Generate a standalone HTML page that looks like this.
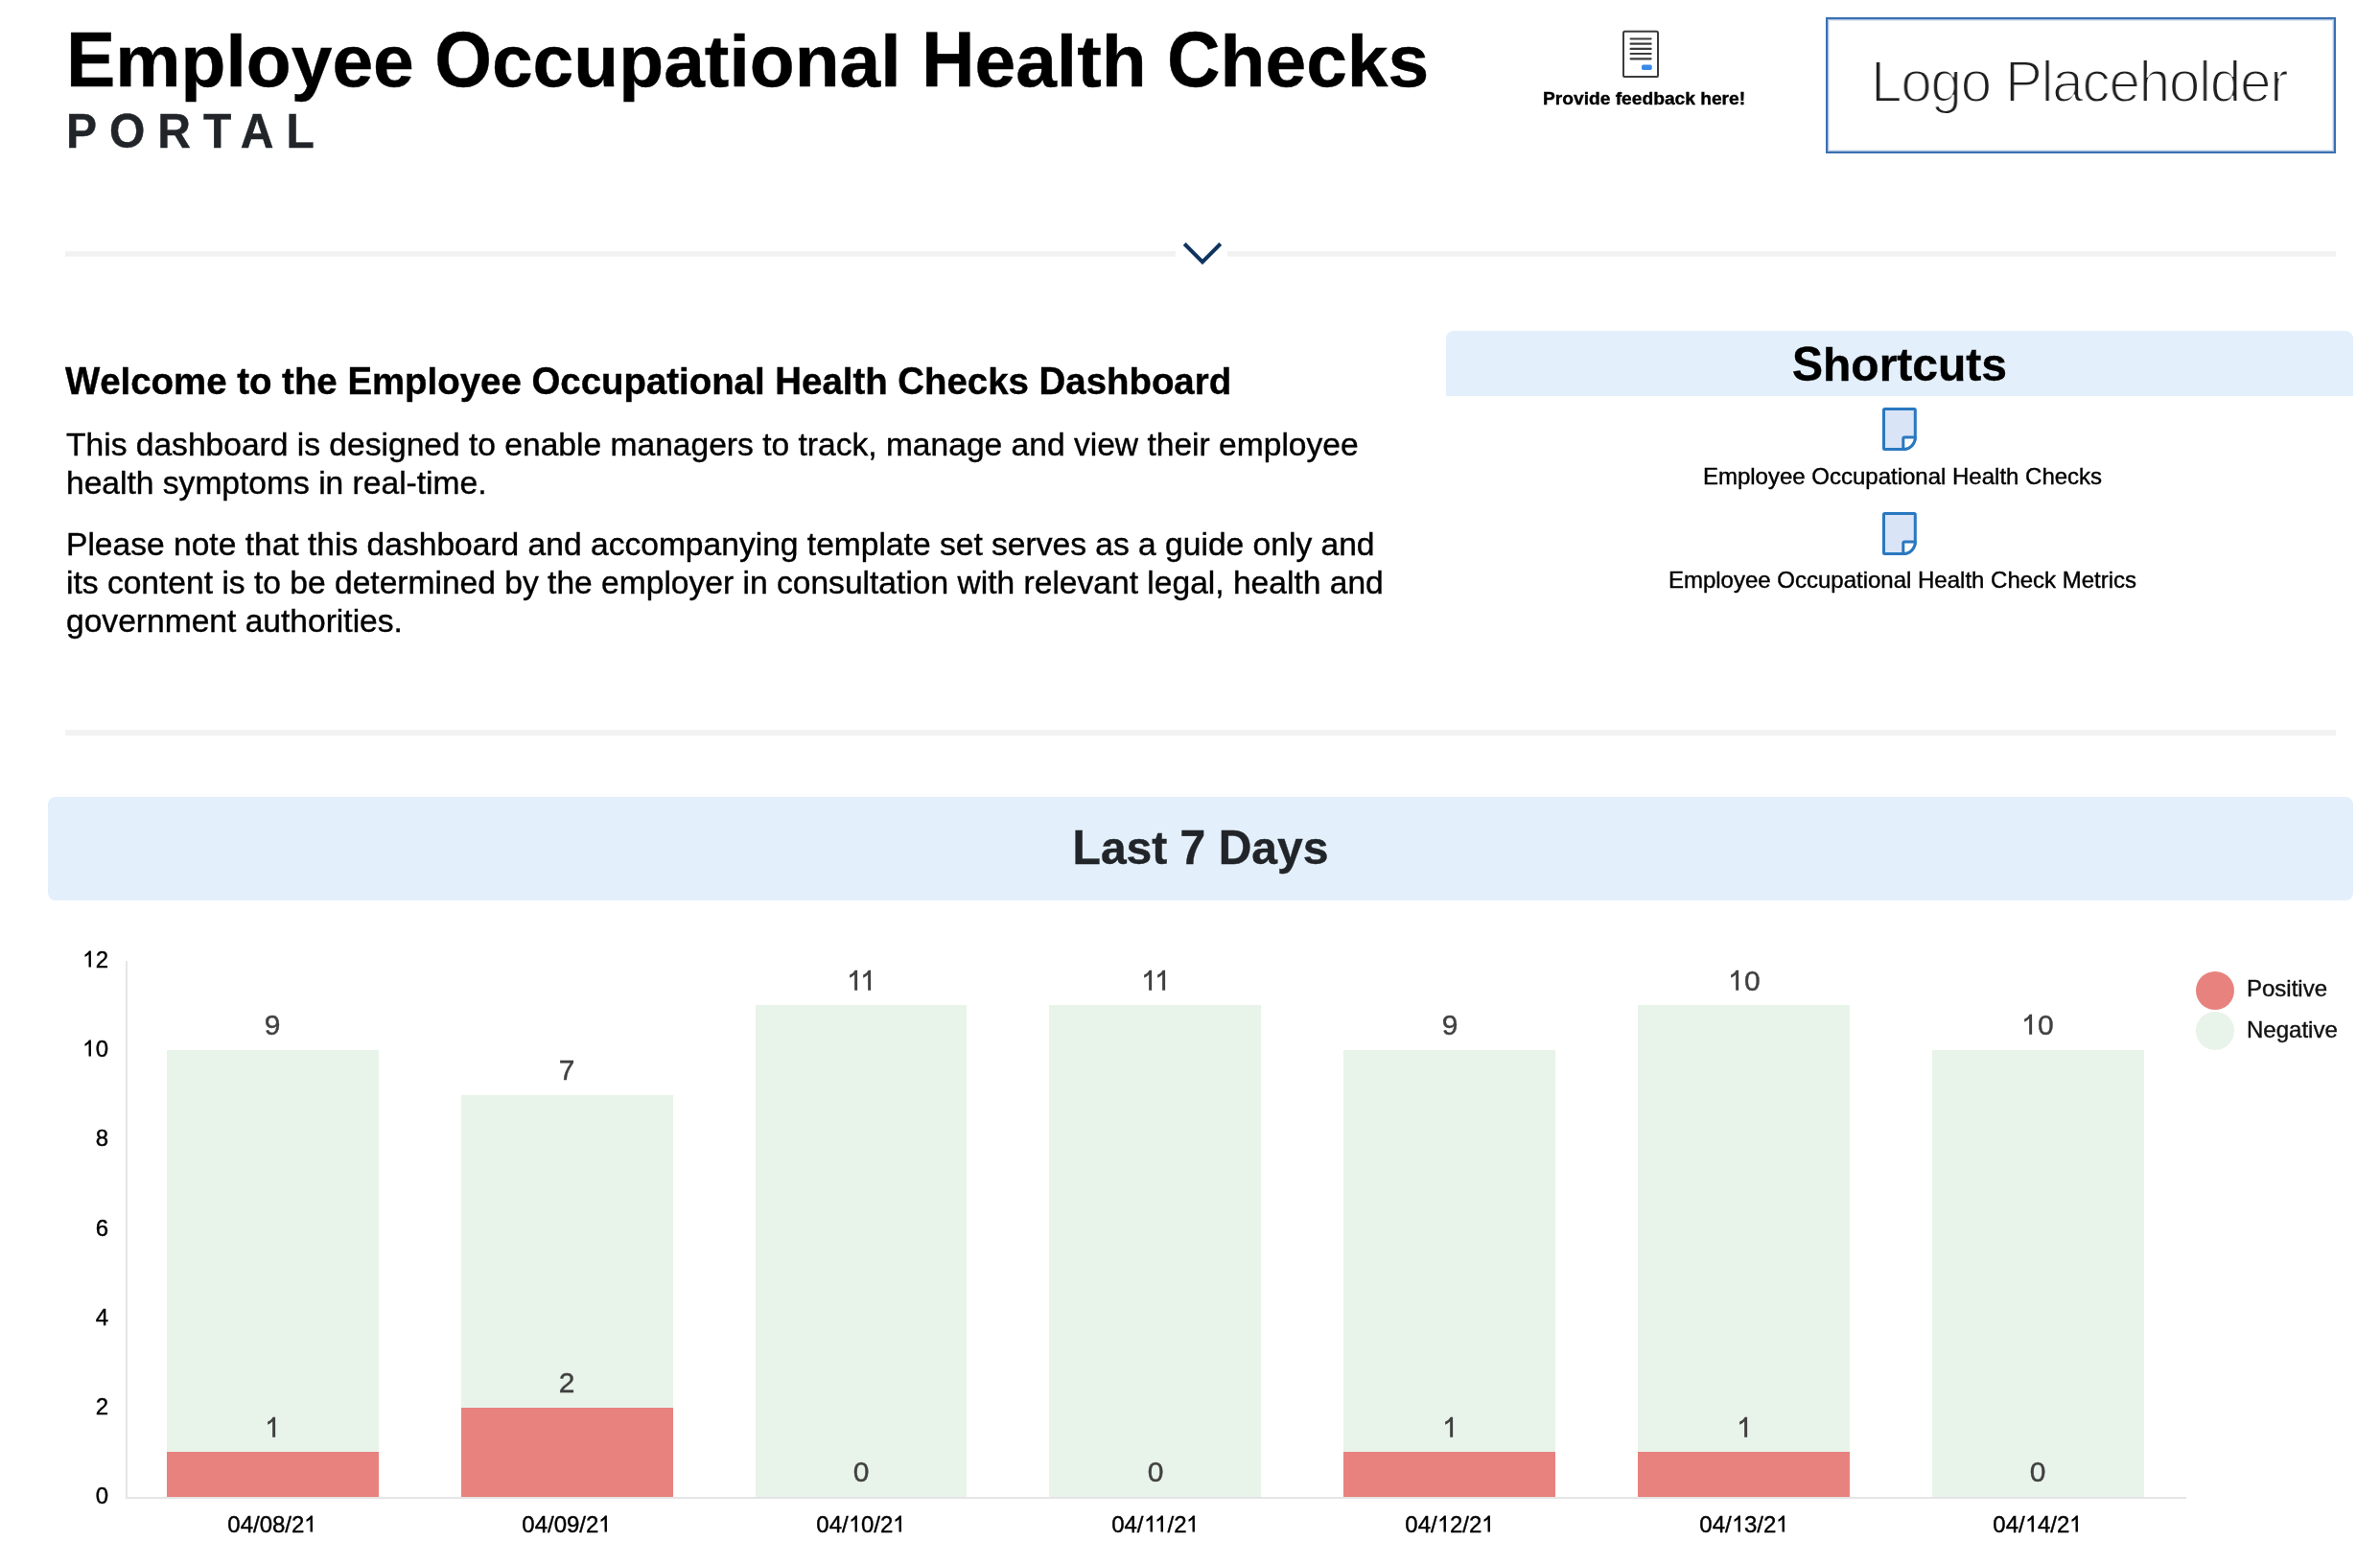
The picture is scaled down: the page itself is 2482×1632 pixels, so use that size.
<!DOCTYPE html>
<html>
<head>
<meta charset="utf-8">
<style>
html,body{margin:0;padding:0;background:#fff;}
body{width:2482px;height:1632px;position:relative;overflow:hidden;font-family:"Liberation Sans",sans-serif;color:#000;}
.a{position:absolute;white-space:nowrap;line-height:1;will-change:transform;-webkit-text-stroke:0.4px currentColor;}
.b{font-weight:bold;}
#title{left:69px;top:25px;font-size:76.8px;font-weight:bold;}
#sctitle i,#bannertext i{font-style:normal;display:inline-block;transform-origin:0 40.6px;transform:scaleY(1.045);}
#welcome i{font-style:normal;display:inline-block;transform-origin:0 32.5px;transform:scaleY(1.045);}
#title i{font-style:normal;display:inline-block;transform-origin:0 65px;transform:scaleY(1.05);}
#portal{left:69px;top:114px;font-size:48px;font-weight:bold;color:#212529;letter-spacing:13px;transform-origin:0 40.6px;transform:scaleY(1.045);}
#fbtext{left:1609px;top:92.5px;font-size:19.2px;font-weight:bold;}
#logo{position:absolute;left:1904px;top:18px;width:532px;height:142px;box-sizing:border-box;border:2px solid #3a70b1;box-shadow:inset 0 0 0 1px #a9c0de,inset 0 0 0 2px #e1e9f4;}
#logotext{left:1951.3px;top:54.9px;font-size:61px;color:#1e1e1e;-webkit-text-stroke:2px #fff;letter-spacing:-1.4px;transform-origin:0 0;transform:scaleX(0.96);}
.divider{position:absolute;left:68px;width:2368px;background:#f2f2f2;}
#welcome{left:68px;top:379px;font-size:38.4px;font-weight:bold;}
.para{position:absolute;left:68.7px;font-size:33.6px;line-height:40px;white-space:nowrap;will-change:transform;-webkit-text-stroke:0.4px currentColor;}
#sc{position:absolute;left:1508px;top:345px;width:946px;height:68px;background:#e3effb;border-radius:8px 8px 0 0;}
#sctitle{left:1508px;width:946px;text-align:center;top:357px;font-size:48px;font-weight:bold;}
.sctext{font-size:24px;text-align:center;width:600px;}
#banner{position:absolute;left:50px;top:831px;width:2404px;height:108px;background:#e3effb;border-radius:8px;}
#bannertext{left:50px;width:2404px;text-align:center;top:861px;font-size:48px;font-weight:bold;color:#212529;}
.ylab{font-size:24px;text-align:right;width:60px;left:53px;}
.xlab{font-size:24px;text-align:center;width:200px;}
.vlab{font-size:30px;text-align:center;width:200px;color:#404040;}
.d1{display:inline-block;width:0.556em;height:0.75em;vertical-align:baseline;fill:currentColor;overflow:visible;}
.d1.k{margin-right:-0.074em;}
.vlab .d1.k{margin-right:-0.096em;}
.bar{position:absolute;width:220.8px;}
.neg{background:#e8f3ea;}
.pos{background:#e8827e;}
</style>
</head>
<body>
<div class="a" id="title"><i>E</i>mployee <i>O</i>ccupational <i>H</i>ealth <i>C</i>hecks</div>
<div class="a" id="portal">PORTAL</div>

<!-- feedback icon -->
<svg style="position:absolute;left:1690px;top:30px" width="42" height="52" viewBox="0 0 42 52">
  <rect x="3" y="2.8" width="36" height="47.3" rx="1.6" fill="#fff" stroke="#3c3c3c" stroke-width="2"/>
  <g stroke="#3c3c3c" stroke-width="2.2" stroke-linecap="round">
    <line x1="10.6" y1="10.5" x2="31.6" y2="10.5"/>
    <line x1="10.6" y1="15.7" x2="31.6" y2="15.7"/>
    <line x1="10.6" y1="20.9" x2="31.6" y2="20.9"/>
    <line x1="10.6" y1="26" x2="31.6" y2="26"/>
    <line x1="10.6" y1="31.3" x2="31.6" y2="31.3"/>
  </g>
  <rect x="22" y="37.5" width="10.7" height="5.4" rx="1.7" fill="#3a8ae8"/>
</svg>
<div class="a" id="fbtext">Provide feedback here!</div>

<div id="logo"></div>
<div class="a" id="logotext">Logo Placeholder</div>

<!-- divider 1 with chevron -->
<div class="divider" style="top:262px;height:5px;"></div>
<div class="divider" style="top:267px;height:1px;background:#f8f8f8;"></div>
<div style="position:absolute;left:1226px;top:255px;width:54px;height:20px;background:#fff;"></div>
<svg style="position:absolute;left:1230px;top:250px" width="48" height="30" viewBox="0 0 48 30">
  <polyline points="5.2,4.3 24,23.1 42.8,4.3" fill="none" stroke="#0f355f" stroke-width="4.1"/>
</svg>

<div class="a" id="welcome"><i>W</i>elcome to the <i>E</i>mployee <i>O</i>ccupational <i>H</i>ealth <i>C</i>hecks <i>D</i>ashboard</div>
<div class="para" style="top:444.2px;">This dashboard is designed to enable managers to track, manage and view their employee<br>health symptoms in real-time.</div>
<div class="para" style="top:548.1px;">Please note that this dashboard and accompanying template set serves as a guide only and<br>its content is to be determined by the employer in consultation with relevant legal, health and<br>government authorities.</div>

<!-- shortcuts -->
<div id="sc"></div>
<div class="a" id="sctitle"><i>S</i>hortcuts</div>
<svg style="position:absolute;left:1963px;top:425.3px" width="36" height="46" viewBox="0 0 36 46">
  <path d="M2.5 1.5 H33.3 Q34.3 1.5 34.3 2.5 V31.1 A12.5 12.4 0 0 1 21.8 43.5 H2.5 Q1.5 43.5 1.5 42.5 V2.5 Q1.5 1.5 2.5 1.5 Z" fill="#dae4f7" stroke="#2a78c0" stroke-width="3" stroke-linejoin="round"/>
  <path d="M34.3 31.1 H23.3 Q21.8 31.1 21.8 32.6 V43.5 A12.5 12.4 0 0 0 34.3 31.1 Z" fill="#fff" stroke="#2a78c0" stroke-width="3" stroke-linejoin="round"/>
</svg>
<div class="a sctext" style="left:1684.4px;top:484.7px;">Employee Occupational Health Checks</div>
<svg style="position:absolute;left:1963px;top:533.6px" width="36" height="46" viewBox="0 0 36 46">
  <path d="M2.5 1.5 H33.3 Q34.3 1.5 34.3 2.5 V31.1 A12.5 12.4 0 0 1 21.8 43.5 H2.5 Q1.5 43.5 1.5 42.5 V2.5 Q1.5 1.5 2.5 1.5 Z" fill="#dae4f7" stroke="#2a78c0" stroke-width="3" stroke-linejoin="round"/>
  <path d="M34.3 31.1 H23.3 Q21.8 31.1 21.8 32.6 V43.5 A12.5 12.4 0 0 0 34.3 31.1 Z" fill="#fff" stroke="#2a78c0" stroke-width="3" stroke-linejoin="round"/>
</svg>
<div class="a sctext" style="left:1684.4px;top:592.7px;">Employee Occupational Health Check Metrics</div>

<!-- divider 2 -->
<div class="divider" style="top:761px;height:6px;"></div>

<!-- banner -->
<div id="banner"></div>
<div class="a" id="bannertext"><i>L</i>ast <i>7</i> <i>D</i>ays</div>

<!-- chart -->
<div id="chart">
<div style="position:absolute;left:131px;top:1002px;width:2px;height:561px;background:#e5e5e5;"></div>
<div style="position:absolute;left:131px;top:1561px;width:2149px;height:2px;background:#e5e5e5;"></div>
<div class="a ylab" style="top:1548.00px;">0</div>
<div class="a ylab" style="top:1455.00px;">2</div>
<div class="a ylab" style="top:1362.00px;">4</div>
<div class="a ylab" style="top:1269.00px;">6</div>
<div class="a ylab" style="top:1175.00px;">8</div>
<div class="a ylab" style="top:1082.00px;"><svg class="d1" viewBox="0 -725 556 750"><path d="M372,0 L272,0 L272,-547 C230,-500 170,-462 105,-432 L105,-540 C185,-570 248,-622 288,-700 L370,-700 Z"/></svg>0</div>
<div class="a ylab" style="top:989.00px;"><svg class="d1" viewBox="0 -725 556 750"><path d="M372,0 L272,0 L272,-547 C230,-500 170,-462 105,-432 L105,-540 C185,-570 248,-622 288,-700 L370,-700 Z"/></svg>2</div>
<div class="bar neg" style="left:174.00px;top:1095.00px;height:466.00px;"></div>
<div class="bar pos" style="left:174.00px;top:1514.40px;height:46.60px;"></div>
<div class="a vlab" style="left:184.40px;top:1474.00px;"><svg class="d1" viewBox="0 -725 556 750"><path d="M372,0 L272,0 L272,-547 C230,-500 170,-462 105,-432 L105,-540 C185,-570 248,-622 288,-700 L370,-700 Z"/></svg></div>
<div class="a vlab" style="left:184.40px;top:1054.00px;">9</div>
<div class="a xlab" style="left:184.40px;top:1578.00px;">04/08/2<svg class="d1" viewBox="0 -725 556 750"><path d="M372,0 L272,0 L272,-547 C230,-500 170,-462 105,-432 L105,-540 C185,-570 248,-622 288,-700 L370,-700 Z"/></svg></div>
<div class="bar neg" style="left:480.83px;top:1141.60px;height:419.40px;"></div>
<div class="bar pos" style="left:480.83px;top:1467.80px;height:93.20px;"></div>
<div class="a vlab" style="left:491.23px;top:1427.00px;">2</div>
<div class="a vlab" style="left:491.23px;top:1101.00px;">7</div>
<div class="a xlab" style="left:491.23px;top:1578.00px;">04/09/2<svg class="d1" viewBox="0 -725 556 750"><path d="M372,0 L272,0 L272,-547 C230,-500 170,-462 105,-432 L105,-540 C185,-570 248,-622 288,-700 L370,-700 Z"/></svg></div>
<div class="bar neg" style="left:787.66px;top:1048.40px;height:512.60px;"></div>
<div class="a vlab" style="left:798.06px;top:1520.00px;">0</div>
<div class="a vlab" style="left:798.06px;top:1008.00px;"><svg class="d1 k" viewBox="0 -725 556 750"><path d="M372,0 L272,0 L272,-547 C230,-500 170,-462 105,-432 L105,-540 C185,-570 248,-622 288,-700 L370,-700 Z"/></svg><svg class="d1" viewBox="0 -725 556 750"><path d="M372,0 L272,0 L272,-547 C230,-500 170,-462 105,-432 L105,-540 C185,-570 248,-622 288,-700 L370,-700 Z"/></svg></div>
<div class="a xlab" style="left:798.06px;top:1578.00px;">04/<svg class="d1" viewBox="0 -725 556 750"><path d="M372,0 L272,0 L272,-547 C230,-500 170,-462 105,-432 L105,-540 C185,-570 248,-622 288,-700 L370,-700 Z"/></svg>0/2<svg class="d1" viewBox="0 -725 556 750"><path d="M372,0 L272,0 L272,-547 C230,-500 170,-462 105,-432 L105,-540 C185,-570 248,-622 288,-700 L370,-700 Z"/></svg></div>
<div class="bar neg" style="left:1094.49px;top:1048.40px;height:512.60px;"></div>
<div class="a vlab" style="left:1104.89px;top:1520.00px;">0</div>
<div class="a vlab" style="left:1104.89px;top:1008.00px;"><svg class="d1 k" viewBox="0 -725 556 750"><path d="M372,0 L272,0 L272,-547 C230,-500 170,-462 105,-432 L105,-540 C185,-570 248,-622 288,-700 L370,-700 Z"/></svg><svg class="d1" viewBox="0 -725 556 750"><path d="M372,0 L272,0 L272,-547 C230,-500 170,-462 105,-432 L105,-540 C185,-570 248,-622 288,-700 L370,-700 Z"/></svg></div>
<div class="a xlab" style="left:1104.89px;top:1578.00px;">04/<svg class="d1 k" viewBox="0 -725 556 750"><path d="M372,0 L272,0 L272,-547 C230,-500 170,-462 105,-432 L105,-540 C185,-570 248,-622 288,-700 L370,-700 Z"/></svg><svg class="d1" viewBox="0 -725 556 750"><path d="M372,0 L272,0 L272,-547 C230,-500 170,-462 105,-432 L105,-540 C185,-570 248,-622 288,-700 L370,-700 Z"/></svg>/2<svg class="d1" viewBox="0 -725 556 750"><path d="M372,0 L272,0 L272,-547 C230,-500 170,-462 105,-432 L105,-540 C185,-570 248,-622 288,-700 L370,-700 Z"/></svg></div>
<div class="bar neg" style="left:1401.32px;top:1095.00px;height:466.00px;"></div>
<div class="bar pos" style="left:1401.32px;top:1514.40px;height:46.60px;"></div>
<div class="a vlab" style="left:1411.72px;top:1474.00px;"><svg class="d1" viewBox="0 -725 556 750"><path d="M372,0 L272,0 L272,-547 C230,-500 170,-462 105,-432 L105,-540 C185,-570 248,-622 288,-700 L370,-700 Z"/></svg></div>
<div class="a vlab" style="left:1411.72px;top:1054.00px;">9</div>
<div class="a xlab" style="left:1411.72px;top:1578.00px;">04/<svg class="d1" viewBox="0 -725 556 750"><path d="M372,0 L272,0 L272,-547 C230,-500 170,-462 105,-432 L105,-540 C185,-570 248,-622 288,-700 L370,-700 Z"/></svg>2/2<svg class="d1" viewBox="0 -725 556 750"><path d="M372,0 L272,0 L272,-547 C230,-500 170,-462 105,-432 L105,-540 C185,-570 248,-622 288,-700 L370,-700 Z"/></svg></div>
<div class="bar neg" style="left:1708.15px;top:1048.40px;height:512.60px;"></div>
<div class="bar pos" style="left:1708.15px;top:1514.40px;height:46.60px;"></div>
<div class="a vlab" style="left:1718.55px;top:1474.00px;"><svg class="d1" viewBox="0 -725 556 750"><path d="M372,0 L272,0 L272,-547 C230,-500 170,-462 105,-432 L105,-540 C185,-570 248,-622 288,-700 L370,-700 Z"/></svg></div>
<div class="a vlab" style="left:1718.55px;top:1008.00px;"><svg class="d1" viewBox="0 -725 556 750"><path d="M372,0 L272,0 L272,-547 C230,-500 170,-462 105,-432 L105,-540 C185,-570 248,-622 288,-700 L370,-700 Z"/></svg>0</div>
<div class="a xlab" style="left:1718.55px;top:1578.00px;">04/<svg class="d1" viewBox="0 -725 556 750"><path d="M372,0 L272,0 L272,-547 C230,-500 170,-462 105,-432 L105,-540 C185,-570 248,-622 288,-700 L370,-700 Z"/></svg>3/2<svg class="d1" viewBox="0 -725 556 750"><path d="M372,0 L272,0 L272,-547 C230,-500 170,-462 105,-432 L105,-540 C185,-570 248,-622 288,-700 L370,-700 Z"/></svg></div>
<div class="bar neg" style="left:2014.98px;top:1095.00px;height:466.00px;"></div>
<div class="a vlab" style="left:2025.38px;top:1520.00px;">0</div>
<div class="a vlab" style="left:2025.38px;top:1054.00px;"><svg class="d1" viewBox="0 -725 556 750"><path d="M372,0 L272,0 L272,-547 C230,-500 170,-462 105,-432 L105,-540 C185,-570 248,-622 288,-700 L370,-700 Z"/></svg>0</div>
<div class="a xlab" style="left:2025.38px;top:1578.00px;">04/<svg class="d1" viewBox="0 -725 556 750"><path d="M372,0 L272,0 L272,-547 C230,-500 170,-462 105,-432 L105,-540 C185,-570 248,-622 288,-700 L370,-700 Z"/></svg>4/2<svg class="d1" viewBox="0 -725 556 750"><path d="M372,0 L272,0 L272,-547 C230,-500 170,-462 105,-432 L105,-540 C185,-570 248,-622 288,-700 L370,-700 Z"/></svg></div>
<div style="position:absolute;left:2290.2px;top:1012.7px;width:40px;height:40px;border-radius:50%;background:#e8827e;"></div>
<div style="position:absolute;left:2290.2px;top:1055.4px;width:40px;height:40px;border-radius:50%;background:#e8f3ea;"></div>
<div class="a" style="left:2343.2px;top:1018.58px;font-size:24px;color:#111;">Positive</div>
<div class="a" style="left:2343.2px;top:1061.58px;font-size:24px;color:#111;">Negative</div>
</div>

</body>
</html>
